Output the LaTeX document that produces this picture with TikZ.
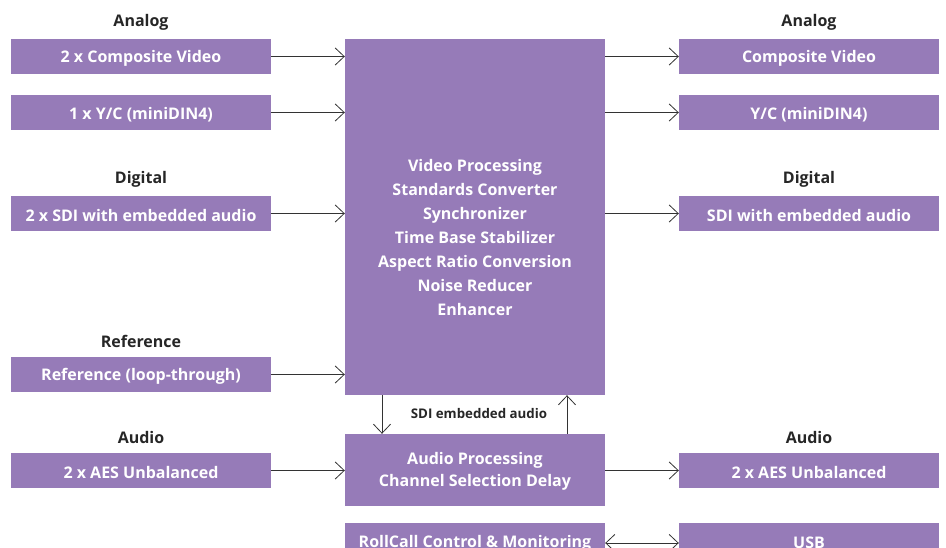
\documentclass[tikz,border=0pt]{standalone}
\usepackage{fontspec}
\setmainfont{Open Sans}
\usetikzlibrary{arrows.meta}
\definecolor{boxpurple}{HTML}{967BB8}
\definecolor{linegray}{HTML}{333333}
\tikzset{
  pbox/.style={fill=boxpurple, draw=none, text=white, font=\fontsize{16}{24}\selectfont\bfseries, inner sep=0pt, align=center},
  sidebox/.style={pbox, minimum width=260pt, minimum height=35pt},
  heading/.style={font=\fontsize{16}{18}\selectfont\bfseries, text=black!85, inner sep=0pt},
  conn/.style={draw=linegray, line width=0.8pt, -{Straight Barb[length=9pt,width=17pt,line width=0.8pt]}},
  dconn/.style={draw=linegray, line width=0.8pt, {Straight Barb[length=9pt,width=17pt,line width=0.8pt]}-{Straight Barb[length=9pt,width=17pt,line width=0.8pt]}},
  smalllabel/.style={font=\fontsize{13.3}{15}\selectfont\bfseries, text=black!85, inner sep=0pt},
  btext/.style={pbox, fill=none}
}
\begin{document}
\begin{tikzpicture}[x=1pt,y=-1pt]
\useasboundingbox (0,0) rectangle (946,548);
\begin{scope}
\clip (0,0) rectangle (946,548);
% headings
\node[heading] (hAL) at (141,22.5) {Analog};
\node[heading] (hAR) at (809,22.5) {Analog};
\node[heading] (hDL) at (141,179.5) {Digital};
\node[heading] (hDR) at (809,179.5) {Digital};
\node[heading] (hRL) at (141,341.5) {Reference};
\node[heading] (hUL) at (141,437.5) {Audio};
\node[heading] (hUR) at (809,437.5) {Audio};
% left inputs
\node[sidebox] (inCV) at (141,56.5) {};
\node[btext] at (141,58.5) {2 x Composite Video};
\node[sidebox] (inYC) at (141,112.5) {};
\node[btext] at (141,114.5) {1 x Y/C (miniDIN4)};
\node[sidebox] (inSDI) at (141,213.5) {};
\node[btext] at (141,215.5) {2 x SDI with embedded audio};
\node[sidebox] (inRef) at (141,374.5) {};
\node[btext] at (141,376.5) {Reference (loop-through)};
\node[sidebox] (inAES) at (141,470.5) {};
\node[btext] at (141,472.5) {2 x AES Unbalanced};
% right outputs
\node[sidebox] (outCV) at (809,56.5) {};
\node[btext] at (809,58.5) {Composite Video};
\node[sidebox] (outYC) at (809,112.5) {};
\node[btext] at (809,114.5) {Y/C (miniDIN4)};
\node[sidebox] (outSDI) at (809,213.5) {};
\node[btext] at (809,215.5) {SDI with embedded audio};
\node[sidebox] (outAES) at (809,470.5) {};
\node[btext] at (809,472.5) {2 x AES Unbalanced};
\node[pbox, minimum width=260pt, minimum height=40pt] (usb) at (809,543) {};
\node[btext] (usbt) at (809,543) {USB};
% center boxes
\node[pbox, minimum width=260pt, minimum height=356pt] (vp) at (475,217) {};
\node[btext] (vpt) at (475,238) {Video Processing\\Standards Converter\\Synchronizer\\Time Base Stabilizer\\Aspect Ratio Conversion\\Noise Reducer\\Enhancer};
\node[pbox, minimum width=260pt, minimum height=72pt] (ap) at (475,470) {};
\node[btext, font=\fontsize{16}{22}\selectfont\bfseries] (apt) at (475,471.5) {Audio Processing\\Channel Selection Delay};
\node[pbox, minimum width=260pt, minimum height=40pt] (rc) at (475,543) {};
\node[btext] (rct) at (475,543) {RollCall Control \& Monitoring};
% connectors in
\draw[conn] (inCV.east) -- (inCV.east -| vp.west);
\draw[conn] (inYC.east) -- (inYC.east -| vp.west);
\draw[conn] (inSDI.east) -- (inSDI.east -| vp.west);
\draw[conn] (inRef.east) -- (inRef.east -| vp.west);
\draw[conn] (inAES.east) -- (inAES.east -| ap.west);
% connectors out
\draw[conn] (outCV.west -| vp.east) -- (outCV.west);
\draw[conn] (outYC.west -| vp.east) -- (outYC.west);
\draw[conn] (outSDI.west -| vp.east) -- (outSDI.west);
\draw[conn] (outAES.west -| ap.east) -- (outAES.west);
\draw[dconn] (rc.east) -- (usb.west);
% vertical
\draw[conn] ([xshift=-93pt]vp.south) -- ([xshift=-93pt]ap.north);
\draw[conn] ([xshift=92pt]ap.north) -- ([xshift=92pt]vp.south);
\node[smalllabel] (sdilab) at (479,414) {SDI embedded audio};
\end{scope}
\end{tikzpicture}
\end{document}
